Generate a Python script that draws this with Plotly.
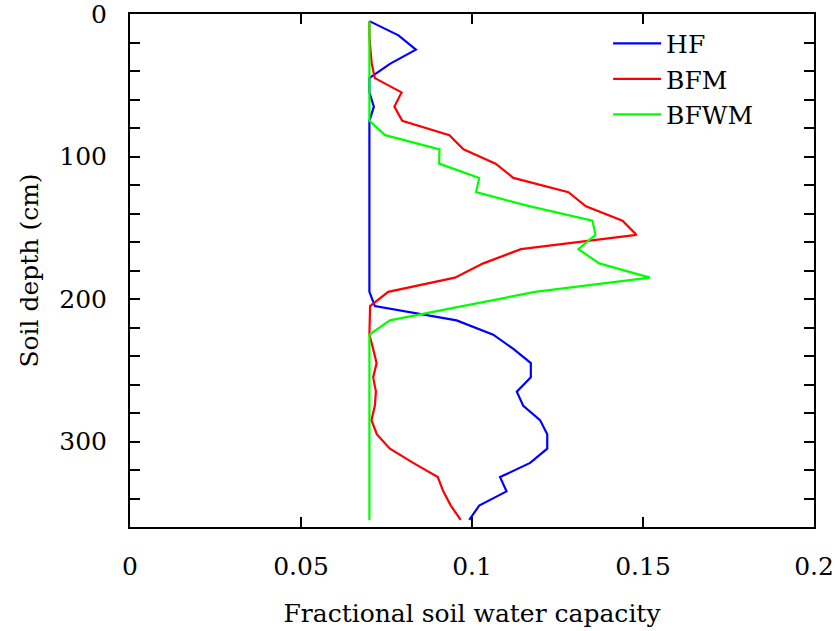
import plotly.graph_objects as go

depth = [5, 15, 25, 35, 45, 55, 65, 75, 85, 95, 105, 115, 125, 135, 145, 155, 165, 175,
         185, 195, 205, 215, 225, 235, 245, 255, 265, 275, 285, 295, 305, 315, 325, 335, 345, 355]

hf = [0.070, 0.0785, 0.0836, 0.076, 0.070, 0.070, 0.0713, 0.070, 0.070, 0.070, 0.070, 0.070,
      0.070, 0.070, 0.070, 0.070, 0.070, 0.070, 0.070, 0.070, 0.0716, 0.0955, 0.1062, 0.1121,
      0.1172, 0.1172, 0.1131, 0.115, 0.1199, 0.122, 0.122, 0.117, 0.1082, 0.1101, 0.1021, 0.0992]

bfm = [0.070, 0.070, 0.0703, 0.0707, 0.0716, 0.0794, 0.0773, 0.0796, 0.0934, 0.0975, 0.1069, 0.1121,
       0.1282, 0.1333, 0.144, 0.1481, 0.1143, 0.1033, 0.095, 0.0755, 0.0702, 0.070, 0.070, 0.0711,
       0.0721, 0.0711, 0.0719, 0.0716, 0.0706, 0.0722, 0.076, 0.0828, 0.09, 0.0916, 0.0938, 0.0967]

bfwm = [0.070, 0.070, 0.070, 0.070, 0.070, 0.070, 0.070, 0.070, 0.0746, 0.0905, 0.0904, 0.1021,
        0.1012, 0.117, 0.1352, 0.1361, 0.1311, 0.1372, 0.152, 0.1184, 0.0972, 0.076, 0.070, 0.070,
        0.070, 0.070, 0.070, 0.070, 0.070, 0.070, 0.070, 0.070, 0.070, 0.070, 0.070, 0.070]

series = [("HF", hf, "#0000ff"), ("BFM", bfm, "#ff0000"), ("BFWM", bfwm, "#00ff00")]

x_ticks = [0, 0.05, 0.1, 0.15, 0.2]
x_tick_labels = ["0", "0.05", "0.1", "0.15", "0.2"]
y_ticks = [0, 100, 200, 300]
y_tick_labels = ["0", "100", "200", "300"]

FONT = "DejaVu Serif, serif"

fig = go.Figure()
for name, vals, col in series:
    fig.add_trace(go.Scatter(x=vals, y=depth, mode="lines", name=name,
                             line=dict(color=col, width=2.2)))

fig.update_layout(
    width=835, height=631,
    margin=dict(l=130, r=21, t=14, b=104, autoexpand=False),
    paper_bgcolor="white", plot_bgcolor="white",
    font=dict(family=FONT, size=25, color="black"),
    showlegend=True,
    legend=dict(x=0.699, y=0.987, xanchor="left", yanchor="top",
                bgcolor="rgba(0,0,0,0)", font=dict(size=25, family=FONT),
                tracegroupgap=0, itemwidth=48),
)

fig.update_xaxes(
    range=[0, 0.2], tickvals=x_ticks, ticktext=x_tick_labels,
    ticks="inside", ticklen=10, tickwidth=1.5, tickcolor="black",
    showline=True, linecolor="black", linewidth=2, mirror="ticks",
    showgrid=False, zeroline=False, ticklabeloverflow="allow", automargin=False,
    ticklabelstandoff=16,
    title=dict(text="Fractional soil water capacity", standoff=24,
               font=dict(size=25, family=FONT)),
)

fig.update_yaxes(
    range=[360, 0], tickvals=y_ticks, ticktext=y_tick_labels,
    ticks="inside", ticklen=10, tickwidth=1.5, tickcolor="black",
    showline=True, linecolor="black", linewidth=2, mirror="ticks",
    showgrid=False, zeroline=False, ticklabeloverflow="allow", automargin=False,
    ticklabelstandoff=16,
    minor=dict(dtick=20, ticks="inside", ticklen=10, tickwidth=1.5, tickcolor="black", showgrid=False),
    title=dict(text="Soil depth (cm)", standoff=14,
               font=dict(size=25, family=FONT)),
)

fig.write_html("out.html")
